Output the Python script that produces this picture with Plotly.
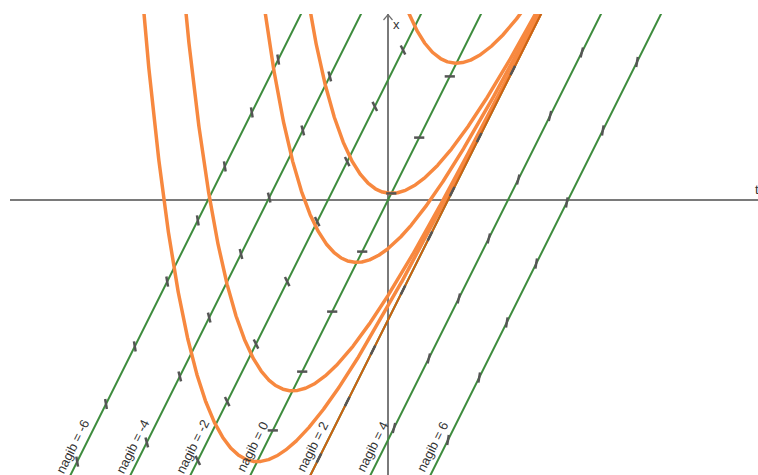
import numpy as np
import plotly.graph_objects as go

# ODE: x' = 2t - x ; isoclines x = 2t - k ("nagib = k")
slopes = [-6, -4, -2, 0, 2, 4, 6]
label_texts = ["nagib = -6", "nagib = -4", "nagib = -2", "nagib = 0",
               "nagib = 2", "nagib = 4", "nagib = 6"]

# t-positions of slope marks on each isocline
marks_m6 = [-1.83, -2.27, -2.72, -3.17, -3.68, -4.22, -4.70, -5.18]
marks_m4 = [-0.97, -1.42, -1.98, -2.45, -2.98, -3.47, -4.02]
marks_m2 = [0.25, -0.22, -0.68, -1.18, -1.68, -2.20, -2.68, -3.17]
marks_0 = [1.03, 0.52, 0.055, -0.43, -0.93, -1.43, -1.92]
marks_p2 = [2.08, 1.52, 1.07, 0.70, 0.25, -0.25, -0.68, -1.15]
marks_p4 = [3.23, 2.70, 2.17, 1.68, 1.18, 0.68, 0.10]
marks_p6 = [4.15, 3.58, 2.98, 2.47, 1.98, 1.52, 1.00]
marks_all = [marks_m6, marks_m4, marks_m2, marks_0, marks_p2, marks_p4, marks_p6]

# t-location of the minimum of each solution curve x = 2t - 2 + C e^{-t}
curve_min_t = [1.14, 0.055, -0.52, -1.59, -2.18]

T0, T1 = -6.3, 6.1667
X0, X1 = -4.583, 3.1

GREEN = "#3d8c3d"
ORANGE = "#f7883f"
DARK_ORANGE = "#cc6212"
MARK = "#555555"

fig = go.Figure()

# isoclines
for k in slopes:
    tt = np.array([(X0 - 1 + k) / 2, (X1 + 1 + k) / 2])
    fig.add_trace(go.Scatter(x=tt, y=2 * tt - k, mode="lines",
                             line=dict(color=GREEN, width=2),
                             hoverinfo="skip", showlegend=False))

# solution curves
t = np.linspace(T0, T1, 3000)
for t0 in curve_min_t:
    C = 2 * np.exp(t0)
    xx = 2 * t - 2 + C * np.exp(-t)
    xx = np.where(xx > 8, np.nan, xx)
    fig.add_trace(go.Scatter(x=t, y=xx, mode="lines",
                             line=dict(color=ORANGE, width=3.5),
                             hoverinfo="skip", showlegend=False,
                             connectgaps=False))

# straight-line solution x = 2t - 2
tl = np.array([T0, T1])
fig.add_trace(go.Scatter(x=tl, y=2 * tl - 2, mode="lines",
                         line=dict(color=DARK_ORANGE, width=2),
                         hoverinfo="skip", showlegend=False))

# slope marks
mx, my = [], []
h = 0.085
for k, ms in zip(slopes, marks_all):
    n = np.hypot(1, k)
    dx, dy = 1 / n, k / n
    for tm in ms:
        xm = 2 * tm - k
        mx += [tm - h * dx, tm + h * dx, None]
        my += [xm - h * dy, xm + h * dy, None]
fig.add_trace(go.Scatter(x=mx, y=my, mode="lines",
                         line=dict(color=MARK, width=2.5),
                         hoverinfo="skip", showlegend=False))

# labels
ang = -np.degrees(np.arctan(2))
label_x = -4.1
for k, txt in zip(slopes, label_texts):
    tlab = (label_x + k) / 2 - 0.21
    fig.add_annotation(x=tlab, y=label_x, text=txt, showarrow=False,
                       textangle=ang, xanchor="center", yanchor="middle",
                       font=dict(family="Liberation Sans, Arial, sans-serif",
                                 size=13, color="#333333"))

# axis names
fig.add_annotation(x=T1, y=0, text="t", showarrow=False, xanchor="right",
                   yanchor="bottom", xshift=3, yshift=1,
                   font=dict(family="Liberation Sans, Arial", size=13, color="#333333"))
fig.add_annotation(x=0, y=X1, text="x", showarrow=False, xanchor="left",
                   yanchor="top", xshift=3, yshift=-1,
                   font=dict(family="Liberation Sans, Arial", size=13, color="#333333"))

# arrow head on x axis
fig.add_shape(type="path",
              path=f"M -0.075 {X1 - 0.1} L 0 {X1 - 0.01} L 0.075 {X1 - 0.1}",
              line=dict(color="#6e6e6e", width=1.2))

fig.update_layout(
    width=758, height=475,
    margin=dict(l=10, r=0, t=14, b=0, pad=0),
    plot_bgcolor="white", paper_bgcolor="white",
    xaxis=dict(range=[T0, T1], showgrid=False, showticklabels=False,
               ticks="", showline=False, zeroline=True,
               zerolinecolor="#7a7a7a", zerolinewidth=1.5, fixedrange=True),
    yaxis=dict(range=[X0, X1], showgrid=False, showticklabels=False,
               ticks="", showline=False, zeroline=True,
               zerolinecolor="#7a7a7a", zerolinewidth=1.5, fixedrange=True),
)

fig.write_html(
    "out.html",
    config={"displayModeBar": False},
    post_script=("document.body.style.margin='0';"
                 "document.body.style.overflow='hidden';"
                 "document.documentElement.style.overflow='hidden';"),
)
